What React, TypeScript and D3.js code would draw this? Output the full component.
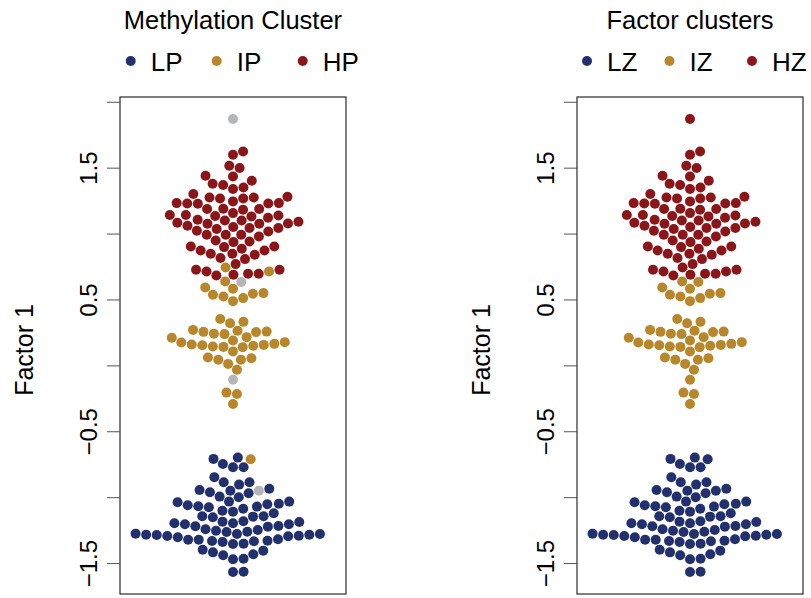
import * as d3 from "d3";

// Factor 1 values, split by (methylation cluster, factor cluster)
const hpHz = [
  1.627, 1.602, 1.519, 1.501, 1.443, 1.437, 1.372, 1.382, 1.405, 1.342, 1.354, 1.304,
  1.27, 1.283, 1.278, 1.278, 1.27, 1.235, 1.248, 1.232, 1.23, 1.232, 1.235,
  1.192, 1.19, 1.185, 1.19, 1.141, 1.159, 1.134, 1.124, 1.137, 1.144, 1.144,
  1.093, 1.08, 1.103, 1.109, 1.086, 1.103, 1.053, 1.078, 1.078, 1.038, 1.02, 1.025,
  1.046, 1.063, 1.046, 0.995, 0.995, 0.951, 0.944, 0.939, 0.982, 0.995,
  0.906, 0.875, 0.843, 0.818, 0.901, 0.85, 0.888, 0.81, 0.85, 0.875, 0.906,
  0.729, 0.716, 0.699, 0.699, 0.772, 0.691, 0.686, 0.729,
];
const ipIz = [
  0.64, 0.585, 0.595, 0.552, 0.539, 0.526, 0.491, 0.514, 0.547,
  0.355, 0.324, 0.334, 0.266, 0.258, 0.243, 0.241, 0.273, 0.218, 0.256, 0.26,
  0.213, 0.177, 0.162, 0.157, 0.147, 0.144, 0.192, 0.109, 0.142, 0.152, 0.159, 0.167, 0.18,
  0.063, 0.046, 0.015, 0.046, 0.058, -0.03, -0.203, -0.213, -0.289,
];
const lpLz = [
  -0.706, -0.744, -0.769, -0.769, -0.696, -0.845, -0.883, -0.901, -0.883,
  -0.942, -0.947, -0.992, -0.959, -0.932, -0.967, -0.997,
  -1.03, -1.05, -1.084, -1.073, -1.035, -1.065, -1.046, -1.068, -1.058, -1.03,
  -1.141, -1.099, -1.118, -1.149, -1.106, -1.144, -1.141,
  -1.185, -1.202, -1.217, -1.179, -1.194, -1.22, -1.194, -1.24, -1.215, -1.202, -1.182,
  -1.276, -1.281, -1.289, -1.291, -1.316, -1.319, -1.245, -1.258, -1.273, -1.329, -1.336,
  -1.352, -1.301, -1.26, -1.349, -1.331, -1.251, -1.327, -1.319, -1.293, -1.283, -1.281, -1.276,
  -1.415, -1.437, -1.395, -1.468, -1.463, -1.43, -1.402, -1.564, -1.562,
];
const naHz = [1.873];
const ipHz = [0.746, 0.716];
const naIz = [0.636, -0.106];
const ipLz = [-0.708];
const naLz = [-0.947];

const colors: Record<string, string> = {
  L: "#22306e",
  I: "#b8862b",
  H: "#8b1619",
  NA: "#b4b6b8",
};

const panels = [
  { title: "Methylation Cluster", labels: ["LP", "IP", "HP"], left: 120, legendX: 130.7, legendStep: 86 },
  { title: "Factor clusters", labels: ["LZ", "IZ", "HZ"], left: 577, legendX: 587, legendStep: 82.5 },
];

const points = [
  ...hpHz.map((v) => ({ v, g: ["H", "H"] })),
  ...ipIz.map((v) => ({ v, g: ["I", "I"] })),
  ...lpLz.map((v) => ({ v, g: ["L", "L"] })),
  ...naHz.map((v) => ({ v, g: ["NA", "H"] })),
  ...ipHz.map((v) => ({ v, g: ["I", "H"] })),
  ...naIz.map((v) => ({ v, g: ["NA", "I"] })),
  ...ipLz.map((v) => ({ v, g: ["I", "L"] })),
  ...naLz.map((v) => ({ v, g: ["NA", "L"] })),
];

const width = 811;
const height = 598;
const boxW = 226;
const top = 97;
const bottom = 594;
// point size in px, horizontal and vertical (as beeswarm's xsize / ysize)
const xsize = 10.6;
const ysize = 10.8;

const y = d3.scaleLinear([-1.731, 2.04], [bottom, top]);
const ticks = [-1.5, -1, -0.5, 0, 0.5, 1, 1.5, 2];
const labelled = [-1.5, -0.5, 0.5, 1.5];

// beeswarm "swarm" placement in point-size units, lowest values first
function swarm(ypx: number[]) {
  const ys = ypx.map((v) => v / ysize);
  const order = d3.range(ys.length).sort((a, b) => ys[b] - ys[a]);
  const xs = new Array(ys.length).fill(0);
  const placed: number[] = [];
  for (const i of order) {
    const near = placed.filter((j) => Math.abs(ys[i] - ys[j]) < 1);
    const offs = near.map((j) => Math.sqrt(1 - (ys[i] - ys[j]) ** 2));
    const cand = [0, ...near.map((j, k) => xs[j] + offs[k]), ...near.map((j, k) => xs[j] - offs[k])];
    const ok = cand.filter((c) =>
      near.every((j) => (xs[j] - c) ** 2 + (ys[i] - ys[j]) ** 2 >= 1 - 1e-9)
    );
    let best = ok[0];
    for (const c of ok) if (Math.abs(c) < Math.abs(best) - 1e-9) best = c;
    xs[i] = best;
    placed.push(i);
  }
  return xs.map((x) => x * xsize);
}

const ys = points.map((p) => y(p.v));
const xs = swarm(ys);
const font = "'Liberation Sans', Arial, Helvetica, sans-serif";

function Panel({ p, idx }: { p: (typeof panels)[number]; idx: number }) {
  const cx = p.left + boxW / 2;
  return (
    <g>
      <text x={cx} y={29} textAnchor="middle" fontSize={25.5} fontFamily={font}>
        {p.title}
      </text>
      {p.labels.map((lab, i) => (
        <g key={lab} transform={`translate(${p.legendX + i * p.legendStep},61)`}>
          <circle r={5} fill={colors[lab[0]]} />
          <text x={20} y={9.5} fontSize={26} fontFamily={font}>
            {lab}
          </text>
        </g>
      ))}
      <rect x={p.left} y={top} width={boxW} height={bottom - top} fill="none" stroke="#000" />
      {ticks.map((t) => (
        <line key={t} x1={p.left - 13} x2={p.left} y1={y(t)} y2={y(t)} stroke="#555" />
      ))}
      {labelled.map((t) => (
        <text
          key={t}
          transform={`translate(${p.left - 23},${y(t)}) rotate(-90)`}
          textAnchor="middle"
          fontSize={24}
          fontFamily={font}
        >
          {d3.format(".1f")(t).replace("-", "\u2212")}
        </text>
      ))}
      <text
        transform={`translate(${p.left - 87},350) rotate(-90)`}
        textAnchor="middle"
        fontSize={25}
        fontFamily={font}
      >
        Factor 1
      </text>
      {points.map((pt, i) => (
        <circle key={i} cx={cx + xs[i]} cy={ys[i]} r={5} fill={colors[pt.g[idx]]} />
      ))}
    </g>
  );
}

export default function App() {
  return (
    <svg
      width={width}
      height={height}
      style={{ position: "absolute", left: 0, top: 0, background: "#fff" }}
    >
      {panels.map((p, i) => (
        <Panel key={p.title} p={p} idx={i} />
      ))}
    </svg>
  );
}
